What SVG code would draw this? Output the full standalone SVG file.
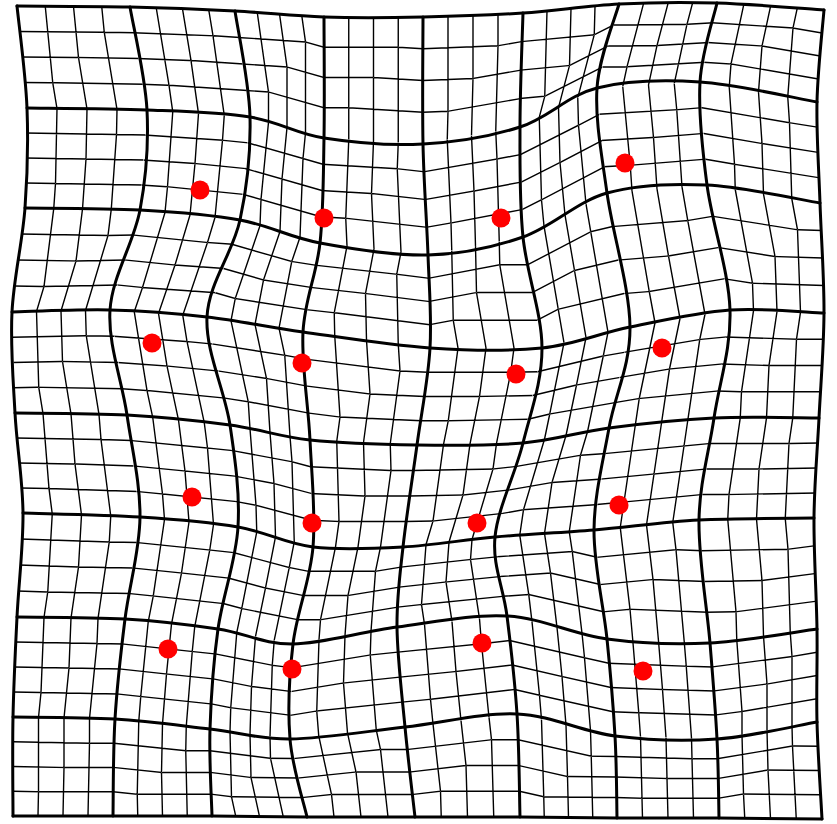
<svg xmlns="http://www.w3.org/2000/svg" width="837" height="824" viewBox="0 0 837 824">
<style>
.fine{fill:none;stroke:#000;stroke-width:1.4;vector-effect:non-scaling-stroke}
.l{clip-path:url(#L)}
.h{clip-path:url(#H)}
.thick{fill:none;stroke:#000;stroke-width:3;stroke-linejoin:round;stroke-linecap:round}
.pt{fill:#ff0000}
</style>
<defs>
<clipPath id="L" clipPathUnits="userSpaceOnUse"><polygon points="0,0 1,0 0,1"/></clipPath>
<clipPath id="H" clipPathUnits="userSpaceOnUse"><polygon points="1,0 1,1 0,1"/></clipPath>
<path id="u" class="fine" d="M0.25 -0.01V1.01M0.5 -0.01V1.01M0.75 -0.01V1.01M-0.01 0.25H1.01M-0.01 0.5H1.01M-0.01 0.75H1.01"/>
</defs>
<rect width="837" height="824" fill="#fff"/>
<g id="fine-grid">
<use href="#u" class="l" transform="matrix(113 1 10 102 17 6)"/><use href="#u" class="h" transform="matrix(120 2 17 103 10 5)"/>
<use href="#u" class="l" transform="matrix(105 4 17 103 130 7)"/><use href="#u" class="h" transform="matrix(103 7 15 106 132 4)"/>
<use href="#u" class="l" transform="matrix(89 6 15 106 235 11)"/><use href="#u" class="h" transform="matrix(74 21 0 121 250 -4)"/>
<use href="#u" class="l" transform="matrix(99 0 0 121 324 17)"/><use href="#u" class="h" transform="matrix(99 6 0 127 324 11)"/>
<use href="#u" class="l" transform="matrix(100 -4 0 127 423 17)"/><use href="#u" class="h" transform="matrix(97 -17 -3 114 426 30)"/>
<use href="#u" class="l" transform="matrix(96 -9 -3 114 523 13)"/><use href="#u" class="h" transform="matrix(77 -39 -22 84 542 43)"/>
<use href="#u" class="l" transform="matrix(98 -1 -22 84 619 4)"/><use href="#u" class="h" transform="matrix(103 -6 -17 79 614 9)"/>
<use href="#u" class="l" transform="matrix(107 7 -17 79 717 3)"/><use href="#u" class="h" transform="matrix(117 20 -7 92 707 -10)"/>

<use href="#u" class="l" transform="matrix(120 2 -2 100 27 108)"/><use href="#u" class="h" transform="matrix(115 2 -7 100 32 108)"/>
<use href="#u" class="l" transform="matrix(103 7 -7 100 147 110)"/><use href="#u" class="h" transform="matrix(100 10 -10 103 150 107)"/>
<use href="#u" class="l" transform="matrix(74 21 -10 103 250 117)"/><use href="#u" class="h" transform="matrix(80 23 -4 105 244 115)"/>
<use href="#u" class="l" transform="matrix(99 6 -4 105 324 138)"/><use href="#u" class="h" transform="matrix(108 12 5 111 315 132)"/>
<use href="#u" class="l" transform="matrix(97 -17 5 111 423 144)"/><use href="#u" class="h" transform="matrix(95 -18 3 110 425 145)"/>
<use href="#u" class="l" transform="matrix(77 -39 3 110 520 127)"/><use href="#u" class="h" transform="matrix(84 -44 10 105 513 132)"/>
<use href="#u" class="l" transform="matrix(103 -6 10 105 597 88)"/><use href="#u" class="h" transform="matrix(100 -8 7 103 600 90)"/>
<use href="#u" class="l" transform="matrix(117 20 7 103 700 82)"/><use href="#u" class="h" transform="matrix(113 18 3 101 704 84)"/>

<use href="#u" class="l" transform="matrix(115 2 -13 104 25 208)"/><use href="#u" class="h" transform="matrix(98 -2 -30 100 42 212)"/>
<use href="#u" class="l" transform="matrix(100 10 -30 100 140 210)"/><use href="#u" class="h" transform="matrix(97 7 -33 97 143 213)"/>
<use href="#u" class="l" transform="matrix(80 23 -33 97 240 220)"/><use href="#u" class="h" transform="matrix(96 15 -17 89 224 228)"/>
<use href="#u" class="l" transform="matrix(108 12 -17 89 320 243)"/><use href="#u" class="h" transform="matrix(127 16 2 93 301 239)"/>
<use href="#u" class="l" transform="matrix(95 -18 2 93 428 255)"/><use href="#u" class="h" transform="matrix(112 0 19 111 411 237)"/>
<use href="#u" class="l" transform="matrix(84 -44 19 111 523 237)"/><use href="#u" class="h" transform="matrix(88 -21 23 134 519 214)"/>
<use href="#u" class="l" transform="matrix(100 -8 23 134 607 193)"/><use href="#u" class="h" transform="matrix(100 -17 23 125 607 202)"/>
<use href="#u" class="l" transform="matrix(113 18 23 125 707 185)"/><use href="#u" class="h" transform="matrix(94 3 4 110 726 200)"/>

<use href="#u" class="l" transform="matrix(98 -2 3 101 12 312)"/><use href="#u" class="h" transform="matrix(112 2 17 105 -2 308)"/>
<use href="#u" class="l" transform="matrix(97 7 17 105 110 310)"/><use href="#u" class="h" transform="matrix(103 10 23 108 104 307)"/>
<use href="#u" class="l" transform="matrix(96 15 23 108 207 317)"/><use href="#u" class="h" transform="matrix(80 15 7 108 223 317)"/>
<use href="#u" class="l" transform="matrix(127 16 7 108 303 332)"/><use href="#u" class="h" transform="matrix(107 5 -13 97 323 343)"/>
<use href="#u" class="l" transform="matrix(112 0 -13 97 430 348)"/><use href="#u" class="h" transform="matrix(106 -2 -19 95 436 350)"/>
<use href="#u" class="l" transform="matrix(88 -21 -19 95 542 348)"/><use href="#u" class="h" transform="matrix(86 -15 -21 101 544 342)"/>
<use href="#u" class="l" transform="matrix(100 -17 -21 101 630 327)"/><use href="#u" class="h" transform="matrix(105 -10 -16 108 625 320)"/>
<use href="#u" class="l" transform="matrix(94 3 -16 108 730 310)"/><use href="#u" class="h" transform="matrix(105 0 -5 105 719 313)"/>

<use href="#u" class="l" transform="matrix(112 2 8 100 15 413)"/><use href="#u" class="h" transform="matrix(117 4 13 102 10 411)"/>
<use href="#u" class="l" transform="matrix(103 10 13 102 127 415)"/><use href="#u" class="h" transform="matrix(98 10 8 102 132 415)"/>
<use href="#u" class="l" transform="matrix(80 15 8 102 230 425)"/><use href="#u" class="h" transform="matrix(75 20 3 107 235 420)"/>
<use href="#u" class="l" transform="matrix(107 5 3 107 310 440)"/><use href="#u" class="h" transform="matrix(90 0 -14 102 327 445)"/>
<use href="#u" class="l" transform="matrix(106 -2 -14 102 417 445)"/><use href="#u" class="h" transform="matrix(92 -10 -28 94 431 453)"/>
<use href="#u" class="l" transform="matrix(86 -15 -28 94 523 443)"/><use href="#u" class="h" transform="matrix(99 -7 -15 102 510 435)"/>
<use href="#u" class="l" transform="matrix(105 -10 -15 102 609 428)"/><use href="#u" class="h" transform="matrix(105 -10 -15 102 609 428)"/>
<use href="#u" class="l" transform="matrix(105 0 -15 102 714 418)"/><use href="#u" class="h" transform="matrix(115 -2 -5 100 704 420)"/>

<use href="#u" class="l" transform="matrix(117 4 -6 104 23 513)"/><use href="#u" class="h" transform="matrix(108 2 -15 102 32 515)"/>
<use href="#u" class="l" transform="matrix(98 10 -15 102 140 517)"/><use href="#u" class="h" transform="matrix(93 10 -20 102 145 517)"/>
<use href="#u" class="l" transform="matrix(75 20 -20 102 238 527)"/><use href="#u" class="h" transform="matrix(75 15 -20 97 238 532)"/>
<use href="#u" class="l" transform="matrix(90 0 -20 97 313 547)"/><use href="#u" class="h" transform="matrix(104 -17 -6 80 299 564)"/>
<use href="#u" class="l" transform="matrix(92 -10 -6 80 403 547)"/><use href="#u" class="h" transform="matrix(110 -11 12 79 385 548)"/>
<use href="#u" class="l" transform="matrix(99 -7 12 79 495 537)"/><use href="#u" class="h" transform="matrix(100 23 13 109 494 507)"/>
<use href="#u" class="l" transform="matrix(105 -10 13 109 594 530)"/><use href="#u" class="h" transform="matrix(103 4 11 123 596 516)"/>
<use href="#u" class="l" transform="matrix(115 -2 11 123 699 520)"/><use href="#u" class="h" transform="matrix(107 -14 3 111 707 532)"/>

<use href="#u" class="l" transform="matrix(108 2 -4 100 17 617)"/><use href="#u" class="h" transform="matrix(102 2 -10 100 23 617)"/>
<use href="#u" class="l" transform="matrix(93 10 -10 100 125 619)"/><use href="#u" class="h" transform="matrix(95 10 -8 100 123 619)"/>
<use href="#u" class="l" transform="matrix(75 15 -8 100 218 629)"/><use href="#u" class="h" transform="matrix(80 10 -3 95 213 634)"/>
<use href="#u" class="l" transform="matrix(104 -17 -3 95 293 644)"/><use href="#u" class="h" transform="matrix(115 -12 8 100 282 639)"/>
<use href="#u" class="l" transform="matrix(110 -11 8 100 397 627)"/><use href="#u" class="h" transform="matrix(112 -13 10 98 395 629)"/>
<use href="#u" class="l" transform="matrix(100 23 10 98 507 616)"/><use href="#u" class="h" transform="matrix(98 22 8 97 509 617)"/>
<use href="#u" class="l" transform="matrix(103 4 8 97 607 639)"/><use href="#u" class="h" transform="matrix(102 3 7 96 608 640)"/>
<use href="#u" class="l" transform="matrix(107 -14 7 96 710 643)"/><use href="#u" class="h" transform="matrix(100 -17 0 93 717 646)"/>

<use href="#u" class="l" transform="matrix(102 2 0 99 13 717)"/><use href="#u" class="h" transform="matrix(100 0 -2 97 15 719)"/>
<use href="#u" class="l" transform="matrix(95 10 -2 97 115 719)"/><use href="#u" class="h" transform="matrix(99 0 2 87 111 729)"/>
<use href="#u" class="l" transform="matrix(80 10 2 87 210 729)"/><use href="#u" class="h" transform="matrix(95 1 17 78 195 738)"/>
<use href="#u" class="l" transform="matrix(115 -12 17 78 290 739)"/><use href="#u" class="h" transform="matrix(108 0 10 90 297 727)"/>
<use href="#u" class="l" transform="matrix(112 -13 10 90 405 727)"/><use href="#u" class="h" transform="matrix(105 0 3 103 412 714)"/>
<use href="#u" class="l" transform="matrix(98 22 3 103 517 714)"/><use href="#u" class="h" transform="matrix(97 1 2 82 518 735)"/>
<use href="#u" class="l" transform="matrix(102 3 2 82 615 736)"/><use href="#u" class="h" transform="matrix(102 0 2 79 615 739)"/>
<use href="#u" class="l" transform="matrix(100 -17 2 79 717 739)"/><use href="#u" class="h" transform="matrix(103 1 5 97 714 721)"/>
</g>
<g id="coarse-grid">
<path class="thick" d="M17,6 C35.8,6.2 93.7,6.2 130,7 C166.3,7.8 202.7,9.3 235,11 C267.3,12.7 292.7,16 324,17 C355.3,18 389.8,17.7 423,17 C456.2,16.3 490.3,15.2 523,13 C555.7,10.8 586.7,5.7 619,4 C651.3,2.3 682.8,2 717,3 C751.2,4 806.2,8.8 824,10"/>
<path class="thick" d="M27,108 C47,108.3 109.8,108.5 147,110 C184.2,111.5 220.5,112.3 250,117 C279.5,121.7 295.2,133.5 324,138 C352.8,142.5 390.3,145.8 423,144 C455.7,142.2 491,136.3 520,127 C549,117.7 567,95.5 597,88 C627,80.5 663.3,79.7 700,82 C736.7,84.3 797.5,98.7 817,102"/>
<path class="thick" d="M25,208 C44.2,208.3 104.2,208 140,210 C175.8,212 210,214.5 240,220 C270,225.5 288.7,237.2 320,243 C351.3,248.8 394.2,256 428,255 C461.8,254 493.2,247.3 523,237 C552.8,226.7 576.3,201.7 607,193 C637.7,184.3 671.5,183.3 707,185 C742.5,186.7 801.2,200 820,203"/>
<path class="thick" d="M12,312 C28.3,311.7 77.5,309.2 110,310 C142.5,310.8 174.8,313.3 207,317 C239.2,320.7 265.8,326.8 303,332 C340.2,337.2 390.2,345.3 430,348 C469.8,350.7 508.7,351.5 542,348 C575.3,344.5 598.7,333.3 630,327 C661.3,320.7 697.7,312.3 730,310 C762.3,307.7 808.3,312.5 824,313"/>
<path class="thick" d="M15,413 C33.7,413.3 91.2,413 127,415 C162.8,417 199.5,420.8 230,425 C260.5,429.2 278.8,436.7 310,440 C341.2,443.3 381.5,444.5 417,445 C452.5,445.5 491,445.8 523,443 C555,440.2 577.2,432.2 609,428 C640.8,423.8 679,419.7 714,418 C749,416.3 801.5,418 819,418"/>
<path class="thick" d="M23,513 C42.5,513.7 104.2,514.7 140,517 C175.8,519.3 209.2,522 238,527 C266.8,532 285.5,543.7 313,547 C340.5,550.3 372.7,548.7 403,547 C433.3,545.3 463.2,539.8 495,537 C526.8,534.2 560,532.8 594,530 C628,527.2 662.3,522 699,520 C735.7,518 794.8,518.3 814,518"/>
<path class="thick" d="M17,617 C35,617.3 91.5,617 125,619 C158.5,621 190,624.8 218,629 C246,633.2 263.2,644.3 293,644 C322.8,643.7 361.3,631.7 397,627 C432.7,622.3 472,614 507,616 C542,618 573.2,634.5 607,639 C640.8,643.5 675,644.7 710,643 C745,641.3 799.2,631.3 817,629"/>
<path class="thick" d="M13,717 C30,717.3 82.2,717 115,719 C147.8,721 180.8,725.7 210,729 C239.2,732.3 257.5,739.3 290,739 C322.5,738.7 367.2,731.2 405,727 C442.8,722.8 482,712.5 517,714 C552,715.5 581.7,731.8 615,736 C648.3,740.2 683.3,741.3 717,739 C750.7,736.7 800.3,724.8 817,722"/>
<polyline class="thick" points="13,816 113,816 212,816 307,817 415,817 520,817 617,818 719,818 822,819"/>
<path class="thick" d="M17,6 C18.7,23 25.7,74.3 27,108 C28.3,141.7 27.5,174 25,208 C22.5,242 13.7,277.8 12,312 C10.3,346.2 13.2,379.5 15,413 C16.8,446.5 22.7,479 23,513 C23.3,547 18.7,583 17,617 C15.3,651 13.7,683.8 13,717 C12.3,750.2 13,799.5 13,816"/>
<path class="thick" d="M130,7 C132.8,24.2 145.3,76.2 147,110 C148.7,143.8 146.2,176.7 140,210 C133.8,243.3 112.2,275.8 110,310 C107.8,344.2 122,380.5 127,415 C132,449.5 140.3,483 140,517 C139.7,551 129.2,585.3 125,619 C120.8,652.7 117,686.2 115,719 C113,751.8 113.3,799.8 113,816"/>
<path class="thick" d="M235,11 C237.5,28.7 249.2,82.2 250,117 C250.8,151.8 247.2,186.7 240,220 C232.8,253.3 208.7,282.8 207,317 C205.3,351.2 224.8,390 230,425 C235.2,460 240,493 238,527 C236,561 222.7,595.3 218,629 C213.3,662.7 211,697.8 210,729 C209,760.2 211.7,801.5 212,816"/>
<path class="thick" d="M324,17 C324,37.2 324.7,100.3 324,138 C323.3,175.7 323.5,210.7 320,243 C316.5,275.3 304.7,299.2 303,332 C301.3,364.8 308.3,404.2 310,440 C311.7,475.8 315.8,513 313,547 C310.2,581 296.8,612 293,644 C289.2,676 287.7,710.2 290,739 C292.3,767.8 304.2,804 307,817"/>
<path class="thick" d="M423,17 C423,38.2 422.2,104.3 423,144 C423.8,183.7 426.8,221 428,255 C429.2,289 431.8,316.3 430,348 C428.2,379.7 421.5,411.8 417,445 C412.5,478.2 406.3,516.7 403,547 C399.7,577.3 396.7,597 397,627 C397.3,657 402,695.3 405,727 C408,758.7 413.3,802 415,817"/>
<path class="thick" d="M523,13 C522.5,32 520,89.7 520,127 C520,164.3 519.3,200.2 523,237 C526.7,273.8 542,313.7 542,348 C542,382.3 530.8,411.5 523,443 C515.2,474.5 497.7,508.2 495,537 C492.3,565.8 503.3,586.5 507,616 C510.7,645.5 514.8,680.5 517,714 C519.2,747.5 519.5,799.8 520,817"/>
<path class="thick" d="M619,4 C615.3,18 599,56.5 597,88 C595,119.5 601.5,153.2 607,193 C612.5,232.8 629.7,287.8 630,327 C630.3,366.2 615,394.2 609,428 C603,461.8 594.3,494.8 594,530 C593.7,565.2 603.5,604.7 607,639 C610.5,673.3 613.3,706.2 615,736 C616.7,765.8 616.7,804.3 617,818"/>
<path class="thick" d="M717,3 C714.2,16.2 701.7,51.7 700,82 C698.3,112.3 702,147 707,185 C712,223 728.8,271.2 730,310 C731.2,348.8 719.2,383 714,418 C708.8,453 699.7,482.5 699,520 C698.3,557.5 707,606.5 710,643 C713,679.5 715.5,709.8 717,739 C718.5,768.2 718.7,804.8 719,818"/>
<path class="thick" d="M824,10 C822.8,25.3 817.7,69.8 817,102 C816.3,134.2 818.8,167.8 820,203 C821.2,238.2 824.2,277.2 824,313 C823.8,348.8 820.7,383.8 819,418 C817.3,452.2 814.3,482.8 814,518 C813.7,553.2 816.5,595 817,629 C817.5,663 816.2,690.3 817,722 C817.8,753.7 821.2,802.8 822,819"/>
</g>
<g id="points">
<circle class="pt" cx="200" cy="190" r="9.5"/>
<circle class="pt" cx="324" cy="218" r="9.5"/>
<circle class="pt" cx="501" cy="218" r="9.5"/>
<circle class="pt" cx="625" cy="163" r="9.5"/>
<circle class="pt" cx="152" cy="343" r="9.5"/>
<circle class="pt" cx="302" cy="363" r="9.5"/>
<circle class="pt" cx="516" cy="374" r="9.5"/>
<circle class="pt" cx="662" cy="348" r="9.5"/>
<circle class="pt" cx="192" cy="497" r="9.5"/>
<circle class="pt" cx="312" cy="523" r="9.5"/>
<circle class="pt" cx="477" cy="523" r="9.5"/>
<circle class="pt" cx="619" cy="505" r="9.5"/>
<circle class="pt" cx="168" cy="649" r="9.5"/>
<circle class="pt" cx="292" cy="669" r="9.5"/>
<circle class="pt" cx="482" cy="643" r="9.5"/>
<circle class="pt" cx="643" cy="671" r="9.5"/>
</g>
</svg>
